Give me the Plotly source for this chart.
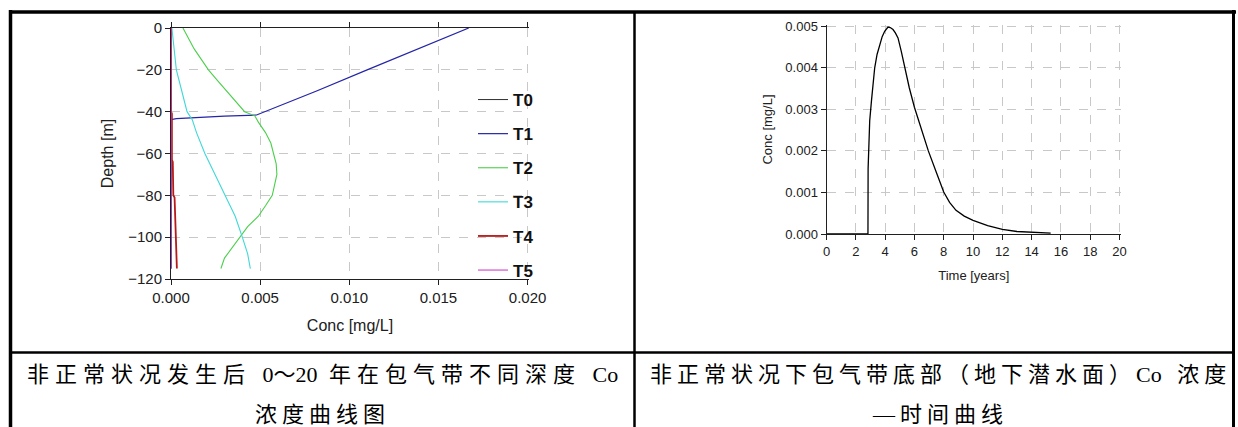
import plotly.graph_objects as go

W, H = 1238, 427

# ---- depth profiles in the unsaturated zone (Conc in mg/L, Depth in m) ----
t0_depth = [0, -115]
t0_conc = [0, 0]

t1_depth = [0, -10, -20, -30, -41.6, -42.1, -42.7, -43.3, -43.8, -115]
t1_conc = [0.0167, 0.0138, 0.0110, 0.0082, 0.0048, 0.0030, 0.0012, 0.0003, 0.0, 0.0]

t2_depth = [0, -5, -10, -15, -20, -25, -30, -35, -40, -42, -45, -50, -55, -60, -65,
            -70, -75, -80, -85, -90, -95, -100, -105, -110, -115]
t2_conc = [0.00067, 0.0010, 0.0013, 0.0017, 0.0021, 0.0026, 0.0031, 0.0036, 0.00413,
           0.0047, 0.0049, 0.0053, 0.0056, 0.00575, 0.0059, 0.00594, 0.0058, 0.00568,
           0.0053, 0.0049, 0.0043, 0.00385, 0.0034, 0.0030, 0.0028]

t3_depth = [0, -10, -20, -30, -40, -44, -50, -60, -70, -80, -90, -100, -108, -115]
t3_conc = [0.00005, 0.00017, 0.0003, 0.0006, 0.0009, 0.0012, 0.00143, 0.0019, 0.00246,
           0.0030, 0.0036, 0.0040, 0.0043, 0.00445]

t4_depth = [0, -40, -41, -63, -64, -80, -81, -100, -110, -115]
t4_conc = [0, 0, 0.00005, 0.00005, 0.0001, 0.00013, 0.0002, 0.00028, 0.00031, 0.00033]

t5_depth = [0, -115]
t5_conc = [0, 0]

# ---- breakthrough curve at the water table ----
time_years = [0, 2.83, 2.84, 2.9, 2.95, 3.07, 3.18, 3.29, 3.45, 3.63, 3.8, 3.97, 4.1,
              4.2, 4.35, 4.54, 4.7, 4.88, 5.1, 5.33, 5.65, 6.0, 6.5, 6.95, 7.5, 8.0,
              8.4, 8.84, 9.4, 10.0, 11.0, 12.0, 13.0, 14.0, 15.3]
bottom_conc = [0, 0, 0.00157, 0.0022, 0.00273, 0.00321, 0.00362, 0.0040, 0.00432,
               0.00456, 0.00475, 0.00488, 0.00495, 0.00498, 0.00497, 0.00492, 0.00484,
               0.00472, 0.00440, 0.0040, 0.00352, 0.00305, 0.00250, 0.0020, 0.00148,
               0.00101, 0.00076, 0.00057, 0.00043, 0.00033, 0.0002, 0.00011, 0.00006,
               0.00004, 0.00002]

depth_ticks = [0, -20, -40, -60, -80, -100, -120]
conc_ticks = [0.0, 0.005, 0.010, 0.015, 0.020]
time_ticks = list(range(0, 21, 2))
bconc_ticks = [0.0, 0.001, 0.002, 0.003, 0.004, 0.005]

profiles = [
    ("T0", t0_conc, t0_depth, "#303030", 1),
    ("T1", t1_conc, t1_depth, "#2424a8", 1.2),
    ("T2", t2_conc, t2_depth, "#4ccf4c", 1.1),
    ("T3", t3_conc, t3_depth, "#40d8d8", 1.1),
    ("T4", t4_conc, t4_depth, "#b81818", 1.8),
    ("T5", t5_conc, t5_depth, "#d040c8", 1.1),
]

SANS = "Liberation Sans, Arial, sans-serif"
CAP = "Liberation Serif, Noto Sans CJK SC, serif"
AX = "#202020"
GRID = "#c8c8c8"


def px(x):
    return x / W


def py(y):
    return 1 - y / H


def spaced(s, gap=5):
    return f'<span style="letter-spacing:{gap}px">{s}</span>'


fig = go.Figure()

for name, xs, ys, col, wd in profiles:
    fig.add_trace(go.Scatter(
        x=xs, y=ys, mode="lines", name=name, legendgroup=name,
        line=dict(color=col, width=wd), xaxis="x", yaxis="y",
    ))

fig.add_trace(go.Scatter(
    x=time_years, y=bottom_conc, mode="lines", showlegend=False,
    line=dict(color="#000000", width=1.3), xaxis="x2", yaxis="y2",
))

base_axis = dict(
    showline=True, linecolor=AX, linewidth=1, ticks="outside", ticklen=5,
    tickcolor=AX, tickwidth=1, showgrid=True, gridcolor=GRID, griddash="dash",
    gridwidth=1, zeroline=False, fixedrange=True, automargin=False,
)
inner_axis = dict(
    showline=True, linecolor=AX, linewidth=1, ticks="inside", ticklen=4,
    tickcolor=AX, tickwidth=1, showgrid=False, zeroline=False,
    showticklabels=False, fixedrange=True, automargin=False,
)

left_x = dict(domain=[px(171), px(529)], range=[0, 0.02008])
left_y = dict(domain=[py(279), py(28)], range=[-120, 0])
right_x = dict(domain=[px(826.5), px(1121)], range=[0, 20.1])
right_y = dict(domain=[py(234), py(25)], range=[0, 0.00503])

fig.update_layout(
    width=W, height=H, margin=dict(l=0, r=0, t=0, b=0, autoexpand=False),
    paper_bgcolor="white", plot_bgcolor="white",
    xaxis=dict(**base_axis, **left_x, anchor="y", mirror="ticks",
               tickvals=conc_ticks, tickformat=".3f",
               tickfont=dict(family=SANS, size=15, color=AX),
               title=dict(text="Conc [mg/L]", standoff=14,
                          font=dict(family=SANS, size=16, color=AX))),
    yaxis=dict(**base_axis, **left_y, anchor="x",
               tickvals=depth_ticks,
               tickfont=dict(family=SANS, size=15, color=AX),
               title=dict(text="Depth [m]", standoff=10,
                          font=dict(family=SANS, size=16, color=AX))),
    xaxis3=dict(**inner_axis, **left_x, anchor="y", overlaying="x",
                mirror="ticks", tickvals=conc_ticks),
    yaxis3=dict(**inner_axis, **left_y, anchor="x", overlaying="y",
                tickvals=depth_ticks),
    xaxis2=dict(**base_axis, **right_x, anchor="y2",
                tickvals=time_ticks,
                tickfont=dict(family=SANS, size=13, color=AX),
                title=dict(text="Time [years]", standoff=13,
                           font=dict(family=SANS, size=13, color=AX))),
    yaxis2=dict(**base_axis, **right_y, anchor="x2",
                tickvals=bconc_ticks, tickformat=".3f",
                tickfont=dict(family=SANS, size=13, color=AX),
                title=dict(text="Conc [mg/L]", standoff=9,
                           font=dict(family=SANS, size=13, color=AX))),
    xaxis4=dict(**inner_axis, **right_x, anchor="y2", overlaying="x2",
                tickvals=time_ticks),
    yaxis4=dict(**inner_axis, **right_y, anchor="x2", overlaying="y2",
                tickvals=bconc_ticks),
    legend=dict(
        x=px(473), y=py(82), xanchor="left", yanchor="top",
        bgcolor="rgba(0,0,0,0)", borderwidth=0,
        traceorder="grouped", tracegroupgap=9,
        font=dict(family=SANS, size=17, color="#111111", weight="bold"),
    ),
    showlegend=True,
)

# table rules around the two figures and their captions
rules = [
    (9, 12, 1236, 12, 3.5),
    (10.5, 10, 10.5, 427, 3.5),
    (1233.5, 10, 1233.5, 427, 3),
    (634.5, 12, 634.5, 427, 2.5),
    (10, 352.5, 1234, 352.5, 2.5),
]
for x0, y0, x1, y1, w in rules:
    fig.add_shape(type="line", xref="paper", yref="paper",
                  x0=px(x0), y0=py(y0), x1=px(x1), y1=py(y1),
                  line=dict(color="#000000", width=w))

captions = [
    (spaced("非正常状况发生后 ", 6) + "0～20" + spaced(" 年在包气带不同深度 ", 6) + "Co", 322, 374),
    (spaced("浓度曲线图"), 322, 414),
    (spaced("非正常状况下包气带底部（地下潜水面）") + "C" + spaced("o 浓度"), 940, 374),
    (spaced("—时间曲线"), 940, 414),
]
for text, cx, cy in captions:
    fig.add_annotation(
        text=text, xref="paper", yref="paper", x=px(cx), y=py(cy),
        xanchor="center", yanchor="middle", align="center", showarrow=False,
        font=dict(family=CAP, size=22, color="#000000"),
    )

# the page itself carries no margin so the figure fills the window exactly
page_reset = (
    "document.documentElement.style.margin='0';"
    "document.body.style.margin='0';"
    "document.body.style.overflow='hidden';"
)

fig.write_html("out.html", post_script=page_reset,
               config={"displayModeBar": False, "staticPlot": True})
